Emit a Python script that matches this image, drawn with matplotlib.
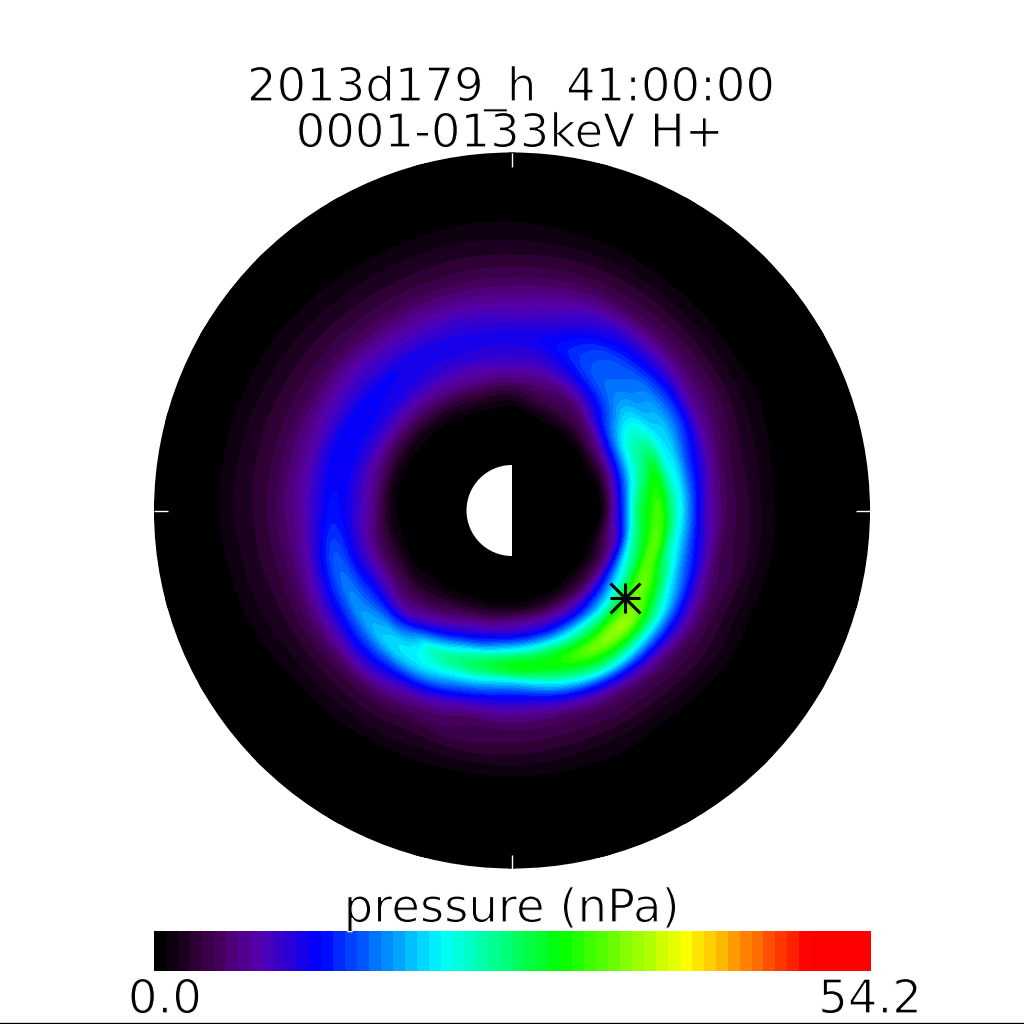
import numpy as np
import matplotlib
matplotlib.use("Agg")
import matplotlib.pyplot as plt
import matplotlib.tri as mtri
import matplotlib.patheffects as pe
from matplotlib.colors import LinearSegmentedColormap, ListedColormap, BoundaryNorm
from matplotlib.patches import Circle, Wedge

title_lines = ["2013d179_h  41:00:00", "0001-0133keV H+"]
bar_label = "pressure (nPa)"
vmin_label = "0.0"
vmax_label = "54.2"
pmax = 54.2
n_levels = 60

# radial distance (Earth radii) and pressure (nPa) along each direction
radii = [1.5, 1.75, 2, 2.25, 2.5, 2.75, 3, 3.25, 3.5, 3.75, 4, 4.25, 4.5, 5, 5.5, 6, 6.5, 7, 8]
p000 = [0,0,1,7,15,25,30,33,28,22,16,10.5,7,3.6,2,.6,0,0,0]
p015 = [0,0,1.2,6,13,21,26,30,25,21,16,12,8,3.8,2.1,.7,0,0,0]
p030 = [0,0,1.5,5,11,18,23,24,22,20,18,14.5,10,5,2.6,1,0,0,0]
p045 = [0,0,.8,3.5,6.5,11.5,15,17.5,18,17,16.5,14,11,5.5,3,1.2,.1,0,0]
p060 = [0,0,.5,2.2,4,5.5,9,12.5,15,15.5,15,13,11,6,3.3,1.5,.3,0,0]
p075 = [0,0,.3,1.5,3.5,5,6.5,9,11,12.5,12,10.5,9,6,3.5,1.8,.5,0,0]
p090 = [0,0,0,.4,2,4,6.5,8.5,10,11,11,9.5,8,5.5,3.4,1.9,.8,0,0]
p105 = [0,0,0,.5,2,4,6.5,8,10,11,11,10,8.5,5.5,3.4,2,.8,0,0]
p120 = [0,0,0,.3,1.5,3.5,6,8,10,11,11.5,10,8.5,5.5,3.4,2,.8,0,0]
p135 = [0,0,0,.2,1,3,5.5,8,10.5,11.5,12,10.5,9,5.7,3.5,2.1,.9,0,0]
p150 = [0,0,0,.1,.8,2.5,5,8,10.5,12,12.5,11,9,5.7,3.5,2.2,1,0,0]
p165 = [0,0,0,0,.6,2,5,7.5,10,12,12.5,11.5,9,5.7,3.5,2.3,1,0,0]
p180 = [0,0,0,0,.5,2,5,7.5,10,12,13,11.5,9,5.7,3.5,2.3,1,0,0]
p195 = [0,0,0,.1,.8,2.5,4.5,7,10,13,15.5,14,10.5,5.5,3.2,2,.7,0,0]
p210 = [0,0,0,.3,1,3,5,8,12,15,17.5,15.5,12,6,3,1.6,.3,0,0]
p225 = [0,0,.1,.6,2,3.5,5.5,8,13,18,20,17,13,6,2.8,1.2,0,0,0]
p240 = [0,0,.2,1.3,3.5,6,9.5,15,22,23,21,16.5,11,5,2.6,.9,0,0,0]
p255 = [0,0,.3,2,5,9,14,22,27,24,18,12.5,8,4.5,2.5,.7,0,0,0]
p270 = [0,0,.4,2.5,6.5,10.5,17.5,26,30,23.5,16,11,7.5,4.2,2.5,.7,0,0,0]
p285 = [0,0,.6,3,7,11.5,19,27,31,28,21,13.5,8,4,2.2,.7,0,0,0]
p300 = [0,0,.9,3.5,7.5,13,21,28,34,32,26,17,9.5,4,2,.6,0,0,0]
p315 = [0,0,1.5,4,9,16,23,31,36,33,25,17,10,4,2,.5,0,0,0]
p330 = [0,0,1.5,4.5,11,20,27,34,33,27,21,15,9.5,4,2,.5,0,0,0]
p345 = [0,0,2,6,12,23,29,34,28,22,16.5,12,7.5,3.8,2,.5,0,0,0]
azimuths = list(range(0, 360, 15))
star_r, star_az = 3.19, -37.6

field = np.array([p000,p015,p030,p045,p060,p075,p090,p105,p120,p135,p150,p165,
                  p180,p195,p210,p225,p240,p255,p270,p285,p300,p315,p330,p345], float)

# figure in pixel coordinates
fig = plt.figure(figsize=(10.24, 10.24), dpi=100, facecolor="white")
ax = fig.add_axes([0, 0, 1, 1])
ax.set_xlim(0, 1024); ax.set_ylim(1024, 0); ax.axis("off")
cx, cy, re_px = 512.0, 510.5, 358.0 / 8.0

# discrete colour table
stops = [(0, (0,0,0)), (.05, (45,0,50)), (.09, (75,0,105)), (.14, (85,0,175)),
         (.227, (0,0,255)), (.40, (0,255,255)), (.57, (0,255,0)),
         (.748, (255,255,0)), (.92, (255,0,0)), (1, (255,0,0))]
base = LinearSegmentedColormap.from_list("idl", [(s, tuple(c/255 for c in col)) for s, col in stops])
cols = base((np.arange(n_levels)) / (n_levels - 1))
cmap = ListedColormap(cols)
levels = np.linspace(0, pmax, n_levels + 1)
norm = BoundaryNorm(levels, n_levels)

# disc and field
ax.add_patch(Circle((cx, cy), 358, fc="black", ec="none", zorder=1))
th = np.deg2rad(azimuths)
rr = np.array(radii)
T, R = np.meshgrid(th, rr, indexing="ij")
X = cx + re_px * R * np.cos(T)
Y = cy - re_px * R * np.sin(T)
na, nr = field.shape
tris = []
for i in range(na):
    j = (i + 1) % na
    for k in range(nr - 1):
        a, b, c, d = i*nr+k, j*nr+k, j*nr+k+1, i*nr+k+1
        tris += [[a, b, c], [a, c, d]]
tr = mtri.Triangulation(X.ravel(), Y.ravel(), np.array(tris))
refiner = mtri.UniformTriRefiner(tr)
tr2, z2 = refiner.refine_field(field.ravel(), subdiv=3)
cs = ax.tricontourf(tr2, np.clip(z2, 0, pmax), levels=levels, cmap=cmap, norm=norm, zorder=2)
clip = Circle((cx, cy), 358, transform=ax.transData)
cs.set_clip_path(clip)

# earth
ax.add_patch(Wedge((cx, cy), 45.5, 90, 270, fc="white", ec="none", zorder=3))

# white ticks
tick = dict(color="white", lw=1.0, zorder=4, solid_capstyle="butt")
ax.plot([cx, cx], [cy-358, cy-344], **tick)
ax.plot([cx, cx], [cy+344, cy+358], **tick)
ax.plot([cx-358, cx-344], [cy, cy], **tick)
ax.plot([cx+344, cx+358], [cy, cy], **tick)

# star marker
sx = cx + re_px*star_r*np.cos(np.deg2rad(star_az))
sy = cy - re_px*star_r*np.sin(np.deg2rad(star_az))
ax.plot([sx], [sy], marker="+", ms=21, mew=2.2, color="black", zorder=5)
ax.plot([sx], [sy], marker="x", ms=21, mew=2.2, color="black", zorder=5)

# colour bar
xe = np.linspace(154, 871, n_levels + 1)
ye = np.array([931, 971])
ax.pcolormesh(xe, ye, (levels[:-1] + levels[1:])[None, :] / 2, cmap=cmap, norm=norm, zorder=2, rasterized=True)

# bottom rule
ax.plot([0, 1024], [1022.5, 1022.5], color="black", lw=1.0, zorder=4)

# text
thin = [pe.Normal(), pe.Stroke(linewidth=0.9, foreground="white")]
def put(x, y, s, size=33.5, ha="center"):
    t = ax.text(x, y, s, fontsize=size, ha=ha, va="baseline", color="black",
                family="DejaVu Sans", zorder=6)
    t.set_path_effects(thin)
    return t
put(511, 101, title_lines[0])
put(510, 147, title_lines[1])
put(512, 922, bar_label, size=33.5)
put(165, 1013, vmin_label)
put(870, 1013, vmax_label)

fig.savefig("out.png", dpi=100, facecolor="white")
